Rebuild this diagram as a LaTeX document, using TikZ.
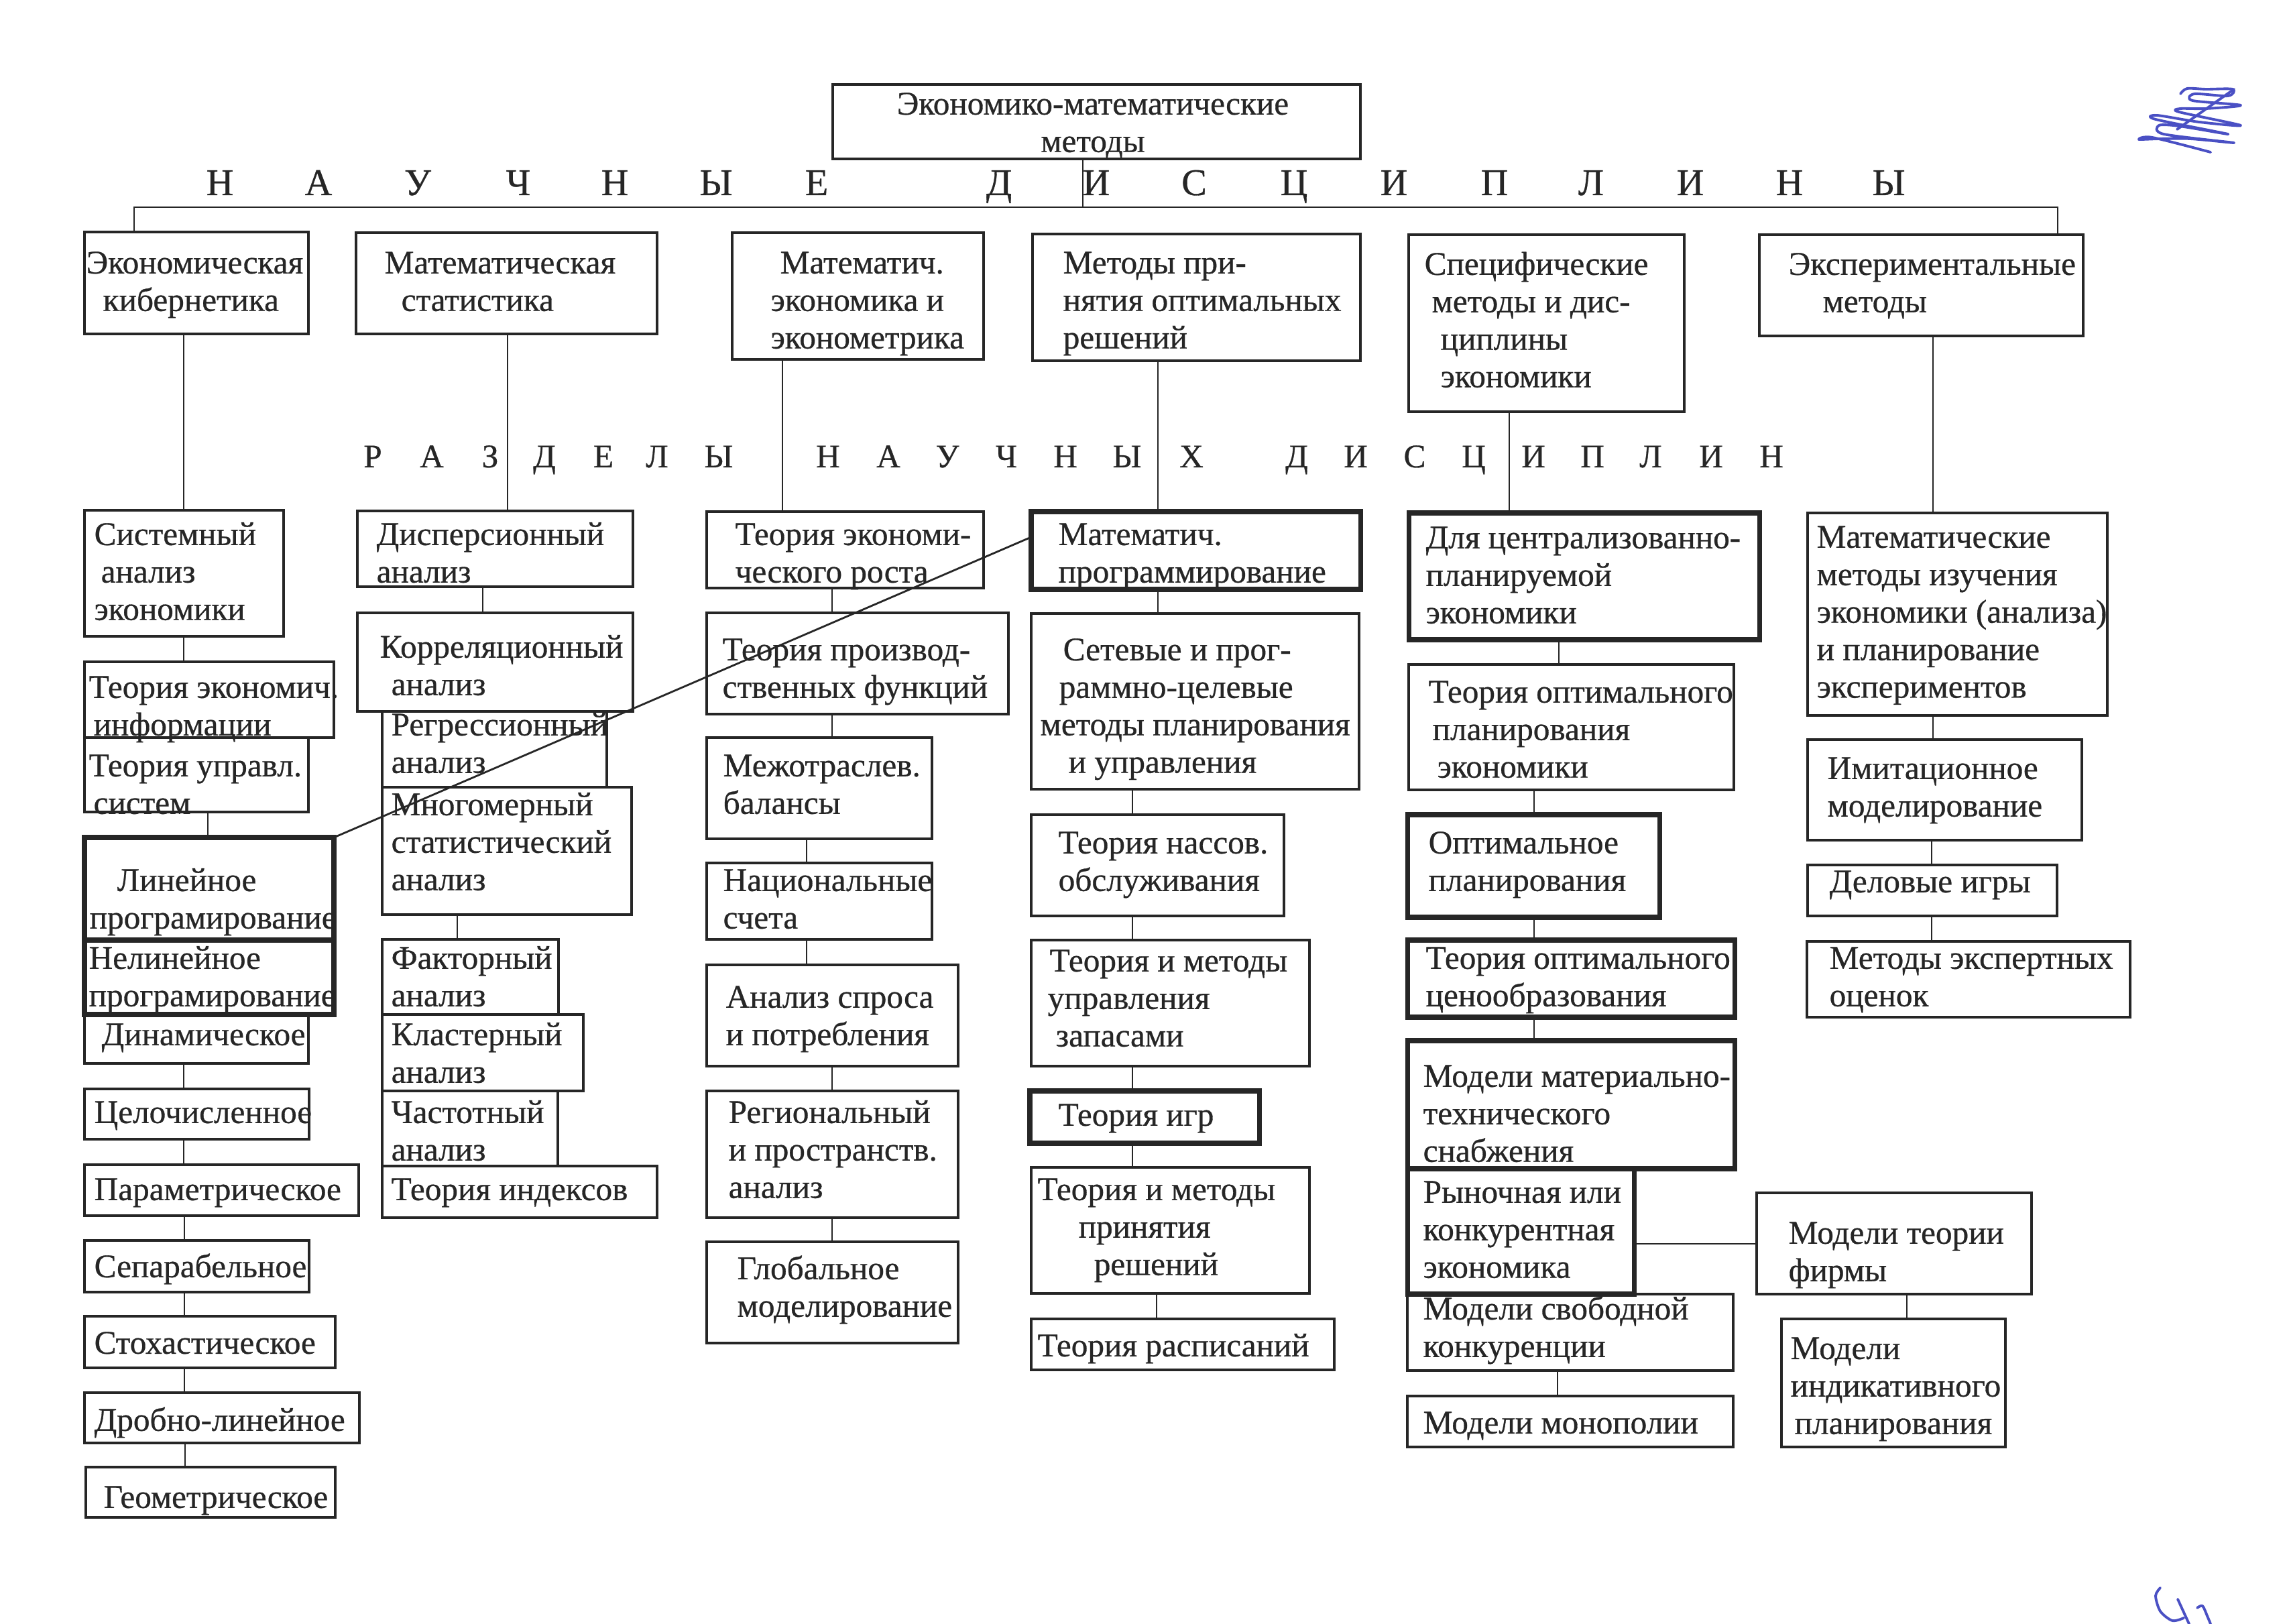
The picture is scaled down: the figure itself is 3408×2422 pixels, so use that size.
\documentclass[tikz,border=0pt]{standalone}
\usepackage{fontspec}
\setmainfont{Liberation Serif}[FakeBold=0.6]
\usetikzlibrary{fit}
\definecolor{ink}{HTML}{262626}
\definecolor{pen}{HTML}{4A50C4}

% box: name, corners (x1,y1) (x2,y2)
\newcommand\bx[6][box]{\node[#1, fit={(#3,#4) (#5,#6)}] (#2) {};}
% text block: name, left x, first baseline y, lines
\newcommand\tx[5][]{\node[txt,#1] (#2) at (#3,#4-39) {\strut #5};}
% vertical connector at x between two boxes
\newcommand\vc[3]{\draw[ln] (#2.south -| #1,0) -- (#3.north -| #1,0);}
\newcommand\ii[1]{\hspace*{#1}}

\begin{document}
\begin{tikzpicture}[x=0.01cm, y=-0.01cm,
  box/.style={draw=ink, line width=0.9pt, inner sep=0pt, outer sep=0pt},
  tbox/.style={box, line width=2pt},
  ln/.style={draw=ink, line width=0.8pt},
  txt/.style={inner sep=0pt, anchor=north west, align=left, text=ink,
              font=\fontsize{14}{15.9}\selectfont},
  hdA/.style={inner sep=0pt, anchor=base, text=ink, font=\fontsize{16}{19}\selectfont},
  hdB/.style={inner sep=0pt, anchor=base, text=ink, font=\fontsize{14}{17}\selectfont},
  scrib/.style={draw=pen, line width=1.1pt, line join=round, line cap=round}]

\useasboundingbox[fill=white] (0,0) rectangle (3408,2422);

% ---------- root ----------
\bx{top}{1242}{126}{2029}{237}
\node[txt, align=center, anchor=north] (top-t) at (1630,170-39)
  {\strut Экономико-математические\\методы};

% ---------- disciplines ----------
\bx{ek}{126}{346}{460}{498}
\bx{mstat}{531}{347}{980}{498}
\bx{mecon}{1092}{347}{1467}{536}
\bx{mopt}{1540}{349}{2029}{538}
\bx{spec}{2101}{350}{2512}{614}
\bx{exp}{2624}{350}{3107}{501}

% ---------- column 1 ----------
\bx{sys}{126}{761}{423}{949}
\bx{tei}{126}{987}{498}{1100}
\bx{tus}{126}{1100}{460}{1211}
\bx{dyn}{126}{1513}{460}{1586}
\bx{int}{126}{1624}{461}{1699}
\bx{par}{126}{1737}{535}{1813}
\bx{sep}{126}{1850}{461}{1927}
\bx{sto}{126}{1963}{500}{2040}
\bx{drob}{126}{2077}{536}{2152}
\bx{geo}{128}{2188}{500}{2263}
\bx[tbox]{lin}{126}{1249}{498}{1402}
\bx[tbox]{nlin}{126}{1402}{498}{1513}

% ---------- column 2 ----------
\bx{disp}{533}{762}{944}{875}
\bx{corr}{533}{914}{944}{1061}
\bx{regr}{570}{1061}{905}{1174}
\bx{mult}{570}{1174}{942}{1364}
\bx{fact}{570}{1401}{833}{1513}
\bx{clus}{570}{1513}{870}{1627}
\bx{freq}{570}{1627}{832}{1739}
\bx{ind}{570}{1739}{980}{1816}

% ---------- column 3 ----------
\bx{grow}{1054}{763}{1467}{877}
\bx{prod}{1054}{914}{1504}{1065}
\bx{inter}{1054}{1100}{1390}{1251}
\bx{nat}{1054}{1287}{1390}{1401}
\bx{dem}{1054}{1439}{1429}{1590}
\bx{reg}{1054}{1627}{1429}{1816}
\bx{glob}{1054}{1852}{1429}{2003}

% ---------- column 4 ----------
\bx{net}{1538}{915}{2027}{1177}
\bx{queue}{1538}{1215}{1915}{1366}
\bx{stock}{1538}{1402}{1953}{1590}
\bx{dec}{1538}{1741}{1953}{1929}
\bx{sched}{1538}{1967}{1990}{2043}
\bx[tbox]{mprog}{1538}{763}{2029}{879}
\bx[tbox]{game}{1536}{1627}{1878}{1705}

% ---------- column 5 ----------
\bx{topt}{2101}{991}{2586}{1178}
\bx{free}{2099}{1930}{2585}{2044}
\bx{mono}{2099}{2082}{2585}{2158}
\bx{firm}{2620}{1779}{3030}{1930}
\bx{indic}{2657}{1967}{2991}{2158}
\bx[tbox]{cent}{2101}{765}{2624}{954}
\bx[tbox]{opt}{2099}{1215}{2475}{1368}
\bx[tbox]{price}{2099}{1402}{2587}{1517}
\bx[tbox]{supp}{2099}{1552}{2587}{1743}
\bx[tbox]{mark}{2099}{1743}{2437}{1930}

% ---------- column 6 ----------
\bx{mmeth}{2696}{765}{3143}{1067}
\bx{imit}{2696}{1103}{3105}{1253}
\bx{biz}{2696}{1290}{3068}{1366}
\bx{expt}{2695}{1404}{3177}{1517}

% ---------- bar under the root ----------
\coordinate (barL) at (200,309);
\coordinate (barM) at (1615,309);
\coordinate (barR) at (3069,309);
\draw[ln] (top.south -| barM) -- (barM);
\draw[ln] (ek.north -| barL) -- (barL) -- (barR) -- (exp.north -| barR);

% ---------- connectors ----------
\vc{274}{ek}{sys}
\vc{757}{mstat}{disp}
\vc{1167}{mecon}{grow}
\vc{1727}{mopt}{mprog}
\vc{2251}{spec}{cent}
\vc{2883}{exp}{mmeth}

\vc{274}{sys}{tei}
\vc{310}{tus}{lin}
\vc{274}{dyn}{int}
\vc{274}{int}{par}
\vc{275}{par}{sep}
\vc{275}{sep}{sto}
\vc{275}{sto}{drob}
\vc{276}{drob}{geo}

\vc{720}{disp}{corr}
\vc{682}{mult}{fact}

\vc{1241}{grow}{prod}
\vc{1241}{prod}{inter}
\vc{1203}{inter}{nat}
\vc{1203}{nat}{dem}
\vc{1241}{dem}{reg}
\vc{1241}{reg}{glob}

\vc{1727}{mprog}{net}
\vc{1689}{net}{queue}
\vc{1689}{queue}{stock}
\vc{1689}{stock}{game}
\vc{1689}{game}{dec}
\vc{1725}{dec}{sched}

\vc{2325}{cent}{topt}
\vc{2288}{topt}{opt}
\vc{2288}{opt}{price}
\vc{2288}{price}{supp}
\vc{2844}{firm}{indic}
\vc{2323}{free}{mono}
\draw[ln] (mark.east |- 0,1855) -- (firm.west |- 0,1855);

\vc{2883}{mmeth}{imit}
\vc{2881}{imit}{biz}
\vc{2881}{biz}{expt}

% ---------- spaced headings ----------
\foreach \x/\l [count=\i] in {328/Н,475/А,623/У,773/Ч,917/Н,1068/Ы,1218/Е,
    1490/Д,1635/И,1781/С,1930/Ц,2079/И,2229/П,2373/Л,2521/И,2669/Н,2817/Ы}
  \node[hdA] (na\i) at (\x,291) {\l};
\foreach \x/\l [count=\i] in {556/Р,644/А,731/З,812/Д,900/Е,980/Л,1072/Ы,
    1235/Н,1325/А,1413/У,1501/Ч,1589/Н,1681/Ы,1777/Х,
    1934/Д,2022/И,2110/С,2198/Ц,2287/И,2375/П,2462/Л,2552/И,2642/Н}
  \node[hdB] (nb\i) at (\x,697) {\l};

% ---------- texts ----------
\tx{ek-t}{128}{407}{Экономическая\\\ii{0.25cm}кибернетика}
\tx{mstat-t}{573}{407}{Математическая\\\ii{0.25cm}статистика}
\tx{mecon-t}{1149}{407}{\ii{0.14cm}Математич.\\экономика и\\эконометрика}
\tx{mopt-t}{1585}{407}{Методы при-\\нятия оптимальных\\решений}
\tx{spec-t}{2124}{409}{Специфические\\\ii{0.11cm}методы и дис-\\\ii{0.24cm}циплины\\\ii{0.24cm}экономики}
\tx{exp-t}{2667}{409}{Экспериментальные\\\ii{0.51cm}методы}

\tx{sys-t}{140}{812}{Системный\\\ii{0.1cm}анализ\\экономики}
\tx{tei-t}{132}{1040}{Теория экономич.\\\ii{0.07cm}информации}
\tx{tus-t}{132}{1157}{Теория управл.\\\ii{0.07cm}систем}
\tx{lin-t}{133}{1328}{\ii{0.41cm}Линейное\\програмирование}
\tx{nlin-t}{132}{1444}{Нелинейное\\програмирование}
\tx{dyn-t}{151}{1558}{Динамическое}
\tx{int-t}{140}{1674}{Целочисленное}
\tx{par-t}{140}{1789}{Параметрическое}
\tx{sep-t}{140}{1904}{Сепарабельное}
\tx{sto-t}{140}{2018}{Стохастическое}
\tx{drob-t}{140}{2133}{Дробно-линейное}
\tx{geo-t}{154}{2248}{Геометрическое}

\tx{disp-t}{561}{812}{Дисперсионный\\анализ}
\tx{corr-t}{566}{980}{Корреляционный\\\ii{0.17cm}анализ}
\tx{regr-t}{583}{1096}{Регрессионный\\анализ}
\tx{mult-t}{583}{1215}{Многомерный\\статистический\\анализ}
\tx{fact-t}{583}{1444}{Факторный\\анализ}
\tx{clus-t}{583}{1558}{Кластерный\\анализ}
\tx{freq-t}{583}{1674}{Частотный\\анализ}
\tx{ind-t}{583}{1789}{Теория индексов}

\tx{grow-t}{1096}{812}{Теория экономи-\\ческого роста}
\tx{prod-t}{1077}{984}{Теория производ-\\ственных функций}
\tx{inter-t}{1078}{1157}{Межотраслев.\\балансы}
\tx{nat-t}{1078}{1328}{Национальные\\счета}
\tx{dem-t}{1082}{1502}{Анализ спроса\\и потребления}
\tx{reg-t}{1086}{1674}{Региональный\\и пространств.\\анализ}
\tx{glob-t}{1099}{1907}{Глобальное\\моделирование}

\tx{mprog-t}{1578}{812}{Математич.\\программирование}
\tx{net-t}{1551}{984}{\ii{0.34cm}Сетевые и прог-\\\ii{0.28cm}раммно-целевые\\методы планирования\\\ii{0.42cm}и управления}
\tx{queue-t}{1578}{1272}{Теория нассов.\\обслуживания}
\tx{stock-t}{1562}{1448}{\ii{0.03cm}Теория и методы\\управления\\\ii{0.12cm}запасами}
\tx{game-t}{1578}{1678}{Теория игр}
\tx{dec-t}{1547}{1789}{Теория и методы\\\ii{0.61cm}принятия\\\ii{0.84cm}решений}
\tx{sched-t}{1547}{2022}{Теория расписаний}

\tx{cent-t}{2126}{817}{Для централизованно-\\планируемой\\экономики}
\tx{topt-t}{2130}{1047}{Теория оптимального\\\ii{0.06cm}планирования\\\ii{0.13cm}экономики}
\tx{opt-t}{2130}{1272}{Оптимальное\\планирования}
\tx{price-t}{2126}{1444}{Теория оптимального\\ценообразования}
\tx{supp-t}{2122}{1620}{Модели материально-\\технического\\снабжения}
\tx{mark-t}{2122}{1793}{Рыночная или\\конкурентная\\экономика}
\tx{free-t}{2122}{1967}{Модели свободной\\конкуренции}
\tx{mono-t}{2122}{2137}{Модели монополии}
\tx{firm-t}{2667}{1854}{Модели теории\\фирмы}
\tx{indic-t}{2670}{2026}{Модели\\индикативного\\\ii{0.06cm}планирования}

\tx{mmeth-t}{2709}{816}{Математические\\методы изучения\\экономики (анализа)\\и планирование\\экспериментов}
\tx{imit-t}{2725}{1161}{Имитационное\\моделирование}
\tx{biz-t}{2728}{1330}{Деловые игры}
\tx{expt-t}{2728}{1444}{Методы экспертных\\оценок}

% ---------- cross link ----------
\draw[ln] (mprog.west |- 0,801) -- (lin.north east);

% ---------- pen marks ----------
\draw[scrib] plot[smooth, tension=0.5] coordinates {
  (3252,140) (3262,132) (3290,133) (3330,133) (3323,143) (3273,140)
  (3270,150) (3342,157) (3290,162) (3252,162) (3250,167) (3342,187)
  (3280,182) (3217,172) (3215,178) (3323,200) (3250,188) (3220,187)
  (3227,200) (3332,213) (3267,207) (3222,207) (3190,208) (3210,205)
  (3297,227)};
\draw[scrib] (3247,193) -- (3332,133);
\draw[scrib] plot[smooth] coordinates {(3222,2368) (3215,2380) (3222,2403) (3240,2417) (3257,2413)};
\draw[scrib] (3248,2385) -- (3265,2422);
\draw[scrib] plot[smooth] coordinates {(3277,2398) (3285,2395) (3292,2410) (3297,2422)};

\end{tikzpicture}
\end{document}
